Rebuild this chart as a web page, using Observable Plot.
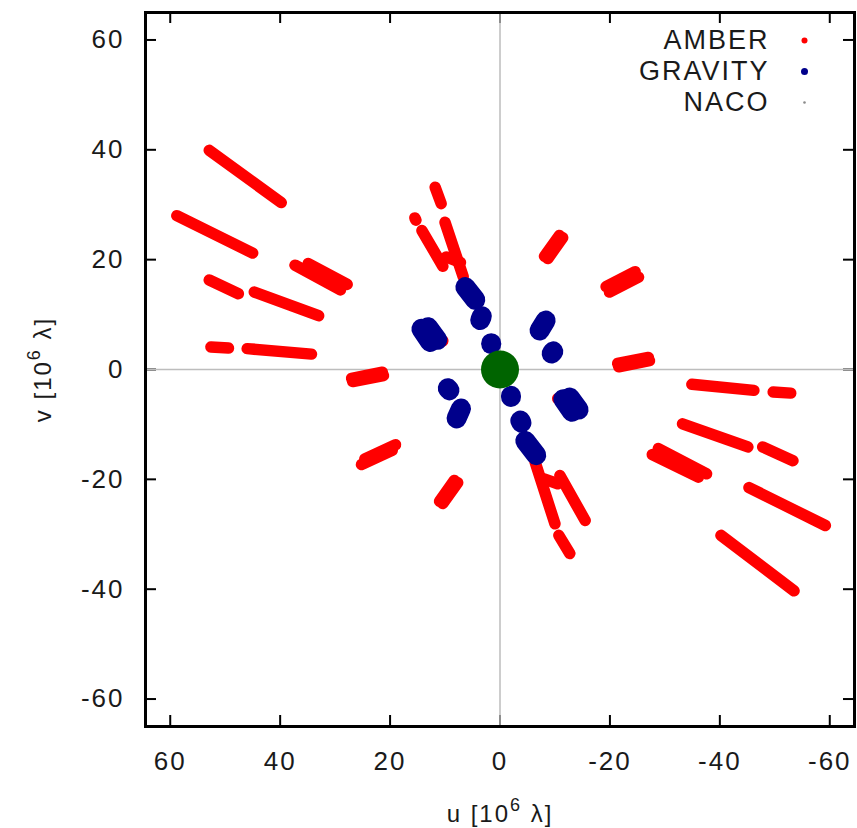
<!DOCTYPE html>
<html>
<head>
<meta charset="utf-8">
<script src="https://cdn.jsdelivr.net/npm/d3@7"></script>
<script src="https://cdn.jsdelivr.net/npm/@observablehq/plot@0.6"></script>
<style>
  html, body { margin: 0; padding: 0; background: #fff; }
  #chart { width: 857px; height: 828px; }
</style>
</head>
<body>
<div id="chart"></div>
<script>
// ---- tick values and labels ----
const xTicks = [60, 40, 20, 0, -20, -40, -60];
const yTicks = [-60, -40, -20, 0, 20, 40, 60];
const legendLabels = ["AMBER", "GRAVITY", "NACO"];
const xLabel = "u [10^6 λ]";
const yLabel = "v [10^6 λ]";

// ---- AMBER uv tracks: [u1, v1, u2, v2] in 10^6 λ ----
const amberTracks = [
  [52.9, 39.9, 39.8, 30.4],
  [58.8, 28.0, 45.0, 21.2],
  [37.3, 19.0, 29.0, 14.5],
  [34.9, 19.3, 27.8, 15.5],
  [52.9, 16.3, 47.6, 13.8],
  [44.7, 14.1, 33.0, 9.8],
  [52.6, 4.1, 49.4, 3.9],
  [46.0, 3.8, 34.3, 2.8],
  [27.0, -1.6, 21.4, -0.5],
  [26.8, -2.2, 21.2, -1.1],
  [11.0, -24.0, 8.3, -20.2],
  [10.4, -24.4, 7.7, -20.6],
  [25.2, -17.3, 19.6, -14.7],
  [24.6, -16.3, 19.0, -13.7],
  [11.8, 33.2, 10.7, 30.2],
  [10.0, 26.8, 6.7, 16.9],
  [15.5, 27.6, 15.3, 27.2],
  [14.2, 25.3, 10.4, 18.8],
  [9.8, 20.5, 7.2, 19.5],
  [10.6, 5.3, 10.4, 5.2],
  [-8.7, 20.2, -11.4, 24.0],
  [-8.1, 20.6, -10.8, 24.4],
  [-19.9, 14.1, -25.2, 16.8],
  [-19.3, 15.1, -24.6, 17.8],
  [-21.4, 1.1, -27.0, 2.2],
  [-21.6, 0.5, -27.2, 1.6],
  [-34.9, -2.7, -46.2, -3.8],
  [-49.7, -4.1, -52.9, -4.3],
  [-33.2, -9.9, -45.1, -14.1],
  [-47.8, -14.1, -53.3, -16.6],
  [-28.8, -14.4, -37.6, -19.0],
  [-27.7, -15.5, -36.1, -19.6],
  [-45.3, -21.5, -59.2, -28.4],
  [-40.2, -30.2, -53.5, -40.3],
  [-6.4, -16.9, -10.0, -28.1],
  [-10.7, -30.2, -12.7, -33.5],
  [-10.9, -19.3, -15.5, -27.5],
  [-8.0, -19.9, -10.5, -20.8],
  [-10.5, -5.3, -10.7, -5.4]
];

// ---- GRAVITY uv tracks: [u1, v1, u2, v2] ----
const gravityTracks = [
  [6.3, 15.0, 4.5, 12.7],
  [3.3, 9.7, 3.6, 9.0],
  [1.6, 4.8, 1.6, 4.6],
  [14.3, 7.4, 12.7, 5.0],
  [13.1, 7.7, 11.4, 5.4],
  [-7.2, 7.1, -8.3, 8.9],
  [-9.4, 2.9, -9.7, 3.3],
  [9.5, -3.4, 9.2, -3.8],
  [7.1, -7.1, 7.9, -8.9],
  [-2.0, -4.8, -2.0, -5.0],
  [-3.7, -9.3, -3.9, -9.7],
  [-4.6, -13.0, -6.6, -15.6],
  [-12.7, -5.1, -14.3, -7.3],
  [-11.5, -5.4, -13.1, -7.7]
];

// ---- NACO (short baselines) ----
const nacoPoints = [[0, 0]];

// ---- styles ----
const RED = "#ff0000", BLUE = "#00008b", GREEN = "#006400";
const legendFill = {AMBER: RED, GRAVITY: BLUE, NACO: "#8a8a8a"};
const legendR = {AMBER: 3, GRAVITY: 3.5, NACO: 1.3};

const W = 857, H = 828, ML = 145, MR = 3, MT = 12, MB = 102;
const PW = W - ML - MR, PH = H - MT - MB;
const TICK = 11;

const legendMarks = legendLabels.flatMap((label, i) => [
  Plot.text([label], {frameAnchor: "top-right", dx: -85, dy: 28 + 31 * i, text: d => d,
    textAnchor: "end", lineAnchor: "middle", fontSize: 27, fill: "#1a1a1a"}),
  Plot.dot([label], {frameAnchor: "top-right", dx: -50, dy: 28 + 31 * i,
    r: legendR[label], fill: legendFill[label], stroke: "none"})
]);

const chart = Plot.plot({
  width: W, height: H,
  marginLeft: ML, marginRight: MR, marginTop: MT, marginBottom: MB,
  x: {domain: [64.5, -64.5]},
  y: {domain: [-65, 65]},
  style: {fontFamily: "'Liberation Sans', Arial, sans-serif", background: "#fff", color: "#1a1a1a", letterSpacing: "2px"},
  marks: [
    // inward ticks on all four sides
    Plot.tickX(xTicks, {x: d => d, insetTop: PH - TICK, stroke: "#000", strokeWidth: 2}),
    Plot.tickX(xTicks, {x: d => d, insetBottom: PH - TICK, stroke: "#000", strokeWidth: 2}),
    Plot.tickY(yTicks, {y: d => d, insetRight: PW - TICK, stroke: "#000", strokeWidth: 2}),
    Plot.tickY(yTicks, {y: d => d, insetLeft: PW - TICK, stroke: "#000", strokeWidth: 2}),
    // zero axes
    Plot.ruleX([0], {stroke: "#bdbdbd", strokeWidth: 1.5}),
    Plot.ruleY([0], {stroke: "#bdbdbd", strokeWidth: 1.5}),
    // data
    Plot.link(amberTracks, {x1: d => d[0], y1: d => d[1], x2: d => d[2], y2: d => d[3],
      stroke: RED, strokeWidth: 11.5, strokeLinecap: "round"}),
    Plot.link(gravityTracks, {x1: d => d[0], y1: d => d[1], x2: d => d[2], y2: d => d[3],
      stroke: BLUE, strokeWidth: 20, strokeLinecap: "round", strokeLinejoin: "round"}),
    Plot.dot(nacoPoints, {x: d => d[0], y: d => d[1], r: 19, fill: GREEN, stroke: "none"}),
    // axes
    Plot.axisX(xTicks, {anchor: "bottom", tickSize: 0, tickPadding: 25, tickFormat: d => String(d),
      fontSize: 26, label: xLabel, labelAnchor: "center", labelOffset: 95, labelArrow: "none"}),
    Plot.axisY(yTicks, {anchor: "left", tickSize: 0, tickPadding: 21, tickFormat: d => String(d),
      fontSize: 26, label: yLabel, labelAnchor: "center", labelOffset: 112, labelArrow: "none"}),
    ...legendMarks,
    Plot.frame({stroke: "#000", strokeWidth: 3})
  ]
});

// superscript handling for axis labels ("10^6")
const ns = "http://www.w3.org/2000/svg";
chart.querySelectorAll("text").forEach(t => {
  const s = t.textContent;
  const m = s.match(/^(.*)\^(\S+)(.*)$/);
  if (!m) return;
  t.textContent = "";
  t.appendChild(document.createTextNode(m[1]));
  const sup = document.createElementNS(ns, "tspan");
  sup.setAttribute("dy", "-11");
  sup.setAttribute("font-size", "0.75em");
  sup.textContent = m[2];
  t.appendChild(sup);
  const rest = document.createElementNS(ns, "tspan");
  rest.setAttribute("dy", "11");
  rest.textContent = m[3];
  t.appendChild(rest);
  t.setAttribute("font-size", "24");
});

document.getElementById("chart").appendChild(chart);
</script>
</body>
</html>
